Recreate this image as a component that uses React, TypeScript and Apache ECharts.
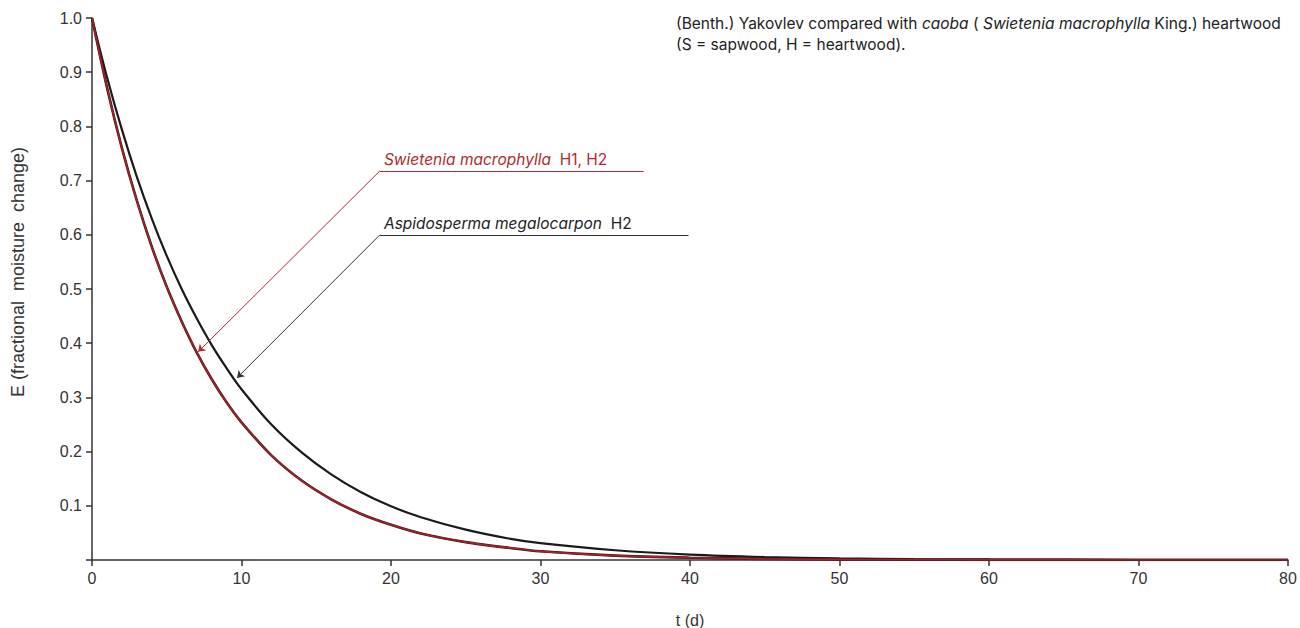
import React, { useEffect, useRef } from "react";
import * as echarts from "echarts";

const tDays = [0, 1, 2, 3, 4, 5, 6, 7, 8, 9, 10, 12, 14, 16, 18, 20, 22, 25, 28, 30, 35, 40, 45, 50, 55, 60, 70, 80];
const aspidospermaH2 = [1.0, 0.891, 0.794, 0.707, 0.63, 0.561, 0.5, 0.446, 0.397, 0.354, 0.315, 0.25, 0.199, 0.158, 0.125, 0.099, 0.079, 0.056, 0.039, 0.031, 0.018, 0.01, 0.0055, 0.0031, 0.0017, 0.001, 0.0003, 0.0001];
const swieteniaH1 = [1.0, 0.872, 0.76, 0.663, 0.578, 0.504, 0.44, 0.383, 0.334, 0.291, 0.254, 0.193, 0.147, 0.112, 0.085, 0.065, 0.049, 0.033, 0.022, 0.016, 0.008, 0.0042, 0.0021, 0.0011, 0.0006, 0.0003, 0.0001, 0.0];
const swieteniaH2 = [1.0, 0.872, 0.76, 0.663, 0.578, 0.504, 0.44, 0.383, 0.334, 0.291, 0.254, 0.193, 0.147, 0.112, 0.085, 0.065, 0.049, 0.033, 0.022, 0.016, 0.008, 0.0042, 0.0021, 0.0011, 0.0006, 0.0003, 0.0001, 0.0];

const xTicks = [0, 10, 20, 30, 40, 50, 60, 70, 80];
const yTicks = [0.1, 0.2, 0.3, 0.4, 0.5, 0.6, 0.7, 0.8, 0.9, 1.0];

// annotation anchors (data space)
const redTip = [7.1, 0.384];
const redElbow = [19.26, 0.718];
const redEnd = [36.9, 0.718];
const blackTip = [9.7, 0.336];
const blackElbow = [19.26, 0.6];
const blackEnd = [39.9, 0.6];

const FONT = "Inter, Roboto, sans-serif";
const AXFONT = "'Liberation Sans', Arial, sans-serif";
const RED = "#b02a30";
const CURVE_RED = "#a3222a";

export default function App() {
  const ref = useRef<HTMLDivElement>(null);
  useEffect(() => {
    if (!ref.current) return;
    const chart = echarts.init(ref.current, undefined, { renderer: "svg" });
    const pair = (ys: number[]) => tDays.map((t, i) => [t, ys[i]]);
    chart.setOption({
      animation: false,
      backgroundColor: "#ffffff",
      textStyle: { fontFamily: FONT },
      grid: { left: 92, right: 12, top: 18, bottom: 68, containLabel: false, outerBoundsMode: "none" },
      xAxis: {
        type: "value",
        min: 0,
        max: 80,
        interval: 10,
        name: "t (d)",
        nameLocation: "middle",
        nameGap: 52,
        nameTextStyle: { color: "#333", fontSize: 16, fontFamily: AXFONT },
        axisLine: { lineStyle: { color: "#333", width: 1.5 } },
        axisTick: { show: true, length: 6, lineStyle: { color: "#333", width: 1.5 } },
        axisLabel: { color: "#333", fontSize: 16, margin: 10, fontFamily: AXFONT, formatter: (v: number) => (xTicks.includes(v) ? String(v) : "") },
        splitLine: { show: false },
      },
      yAxis: {
        type: "value",
        min: 0,
        max: 1.0,
        interval: 0.1,
        axisLine: { show: true, lineStyle: { color: "#333", width: 1.5 } },
        axisTick: { show: true, length: 6, lineStyle: { color: "#333", width: 1.5 } },
        axisLabel: {
          color: "#333",
          fontSize: 16,
          margin: 10,
          fontFamily: AXFONT,
          formatter: (v: number) => {
            const hit = yTicks.find((t) => Math.abs(t - v) < 1e-6);
            return hit === undefined ? "" : hit.toFixed(1);
          },
        },
        splitLine: { show: false },
      },
      series: [
        {
          name: "Aspidosperma megalocarpon H2",
          type: "line",
          data: pair(aspidospermaH2),
          smooth: 0.3,
          showSymbol: false,
          lineStyle: { color: "#1a1a1a", width: 2.2 },
          z: 3,
          markLine: {
            silent: true,
            symbol: ["none", "arrow"],
            symbolSize: 7,
            lineStyle: { color: "#333", width: 1, type: "solid" },
            label: { show: false },
            data: [
              [{ coord: blackElbow }, { coord: blackTip }],
              [
                {
                  coord: blackElbow,
                  symbol: "none",
                  label: {
                    show: true,
                    position: "insideStartTop",
                    distance: [4, 3],
                    formatter: "{i|Aspidosperma megalocarpon}  H2",
                    color: "#222",
                    fontSize: 15.5,
                    fontFamily: FONT,
                    rich: { i: { fontStyle: "italic", color: "#222", fontSize: 15.5, fontFamily: FONT } },
                  },
                },
                { coord: blackEnd, symbol: "none" },
              ],
            ],
          },
        },
        {
          name: "Swietenia macrophylla H1",
          type: "line",
          data: pair(swieteniaH1),
          smooth: 0.3,
          showSymbol: false,
          lineStyle: { color: "#3a1619", width: 2.6 },
          z: 4,
        },
        {
          name: "Swietenia macrophylla H2",
          type: "line",
          data: pair(swieteniaH2),
          smooth: 0.3,
          showSymbol: false,
          lineStyle: { color: CURVE_RED, width: 1.6 },
          z: 5,
          markLine: {
            silent: true,
            symbol: ["none", "arrow"],
            symbolSize: 7,
            lineStyle: { color: RED, width: 1, type: "solid" },
            label: { show: false },
            data: [
              [{ coord: redElbow }, { coord: redTip }],
              [
                {
                  coord: redElbow,
                  symbol: "none",
                  label: {
                    show: true,
                    position: "insideStartTop",
                    distance: [4, 3],
                    formatter: "{i|Swietenia macrophylla}  H1, H2",
                    color: RED,
                    fontSize: 15.5,
                    fontFamily: FONT,
                    rich: { i: { fontStyle: "italic", color: RED, fontSize: 15.5, fontFamily: FONT } },
                  },
                },
                { coord: redEnd, symbol: "none" },
              ],
            ],
          },
        },
      ],
      graphic: [
        {
          type: "text",
          x: 18,
          y: 272,
          rotation: Math.PI / 2,
          style: {
            text: "E (fractional  moisture  change)",
            fontSize: 18,
            fontFamily: AXFONT,
            fill: "#333",
            align: "center",
            verticalAlign: "middle",
          },
        },
        {
          type: "text",
          left: 676,
          top: 15,
          style: {
            text: "(Benth.) Yakovlev compared with {i|caoba} ( {i|Swietenia macrophylla} King.) heartwood",
            fontSize: 15.5,
            fontFamily: FONT,
            fill: "#222",
            rich: { i: { fontStyle: "italic", fontSize: 15.5, fontFamily: FONT, fill: "#222" } },
          },
        },
        {
          type: "text",
          left: 676,
          top: 36,
          style: { text: "(S = sapwood, H = heartwood).", fontSize: 15.5, fontFamily: FONT, fill: "#222" },
        },
      ],
    });
    return () => chart.dispose();
  }, []);
  return <div ref={ref} style={{ position: "fixed", left: 0, top: 0, width: 1300, height: 628 }} />;
}
